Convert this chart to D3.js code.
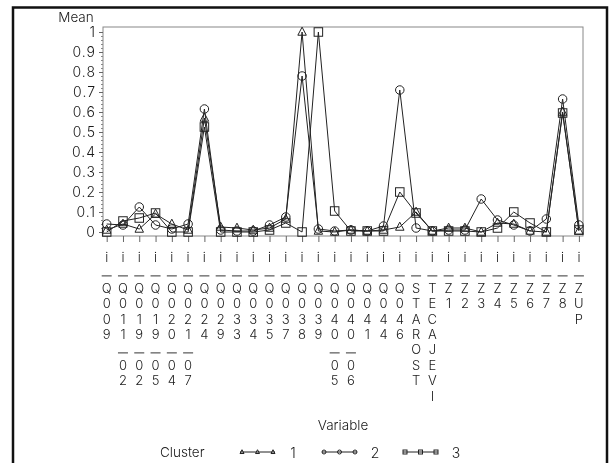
<!DOCTYPE html>
<html><head><meta charset="utf-8">
<script src="https://cdn.jsdelivr.net/npm/d3@7"></script>
<style>body{margin:0;background:#fff}svg{will-change:transform}text{font-family:"Inter","DejaVu Sans",sans-serif;font-weight:300;fill:#1a1a1a}</style>
</head><body><svg id="c" width="612" height="463"></svg>
<script>
const categories = ["i_Q009","i_Q011_02","i_Q019_02","i_Q019_05","i_Q020_04","i_Q021_07","i_Q024","i_Q029","i_Q033","i_Q034","i_Q035","i_Q037","i_Q038","i_Q039","i_Q040_05","i_Q040_06","i_Q041","i_Q044","i_Q046","i_STAROST","i_TECAJEVI","i_Z1","i_Z2","i_Z3","i_Z4","i_Z5","i_Z6","i_Z7","i_Z8","i_ZUP"];
const cluster1 = [0.01,0.04,0.015,0.09,0.04,0.01,0.57,0.025,0.02,0.01,0.02,0.065,1.0,0.005,0.0,0.01,0.005,0.01,0.025,0.1,0.005,0.02,0.02,0.0,0.045,0.04,0.005,0.0,0.6,0.005];
const cluster2 = [0.04,0.035,0.125,0.035,0.015,0.04,0.615,0.01,0.005,0.005,0.035,0.075,0.78,0.015,0.005,0.01,0.005,0.03,0.71,0.02,0.005,0.01,0.01,0.165,0.06,0.035,0.005,0.065,0.665,0.035];
const cluster3 = [0.0,0.055,0.07,0.095,0.0,0.0,0.525,0.0,0.0,0.0,0.01,0.045,0.0,1.0,0.105,0.005,0.005,0.005,0.2,0.095,0.005,0.005,0.005,0.0,0.02,0.1,0.045,0.0,0.595,0.01];
const clusterNames = ["1","2","3"];
const yTicks = [0,0.1,0.2,0.3,0.4,0.5,0.6,0.7,0.8,0.9,1];
const yTitle = "Mean";
const xTitle = "Variable";
const legendTitle = "Cluster";

const svg = d3.select("#c");
const series = [cluster1, cluster2, cluster3];
const shapes = ["triangle","circle","square"];

const x = d3.scalePoint().domain(categories).range([106.7, 578.9]);
const y = d3.scaleLinear().domain([0,1]).range([232,32]);
const frame = {l:103, r:583, t:27, b:236};

svg.append("rect").attr("x",13).attr("y",7.5).attr("width",594).attr("height",520)
  .attr("fill","none").attr("stroke","#111").attr("stroke-width",2.5);

svg.append("rect").attr("x",frame.l).attr("y",frame.t).attr("width",frame.r-frame.l).attr("height",frame.b-frame.t)
  .attr("fill","none").attr("stroke","#888").attr("stroke-width",1);

const ya = svg.append("g").attr("transform",`translate(${frame.l},0)`)
  .call(d3.axisLeft(y).tickValues(yTicks).tickSize(4).tickPadding(3)
    .tickFormat(d => d===0 ? "0" : d===1 ? "1" : d3.format(".1f")(d)));
ya.select(".domain").remove();
ya.selectAll("line").attr("stroke","#666");
ya.selectAll("text").attr("font-size",14).attr("letter-spacing",1).attr("fill","#1a1a1a")
  .style("font-family","Inter, DejaVu Sans").style("font-weight",300);
const minor = d3.range(0,1.0001,0.02).filter(v => Math.abs(v*10 - Math.round(v*10))>1e-6);
const ym = svg.append("g").attr("transform",`translate(${frame.l},0)`)
  .call(d3.axisLeft(y).tickValues(minor).tickSize(2).tickFormat(""));
ym.select(".domain").remove();
ym.selectAll("line").attr("stroke","#888");

svg.append("text").attr("x",76).attr("y",17).attr("text-anchor","middle").attr("dominant-baseline","central")
  .attr("font-size",13.5).text(yTitle);

const xa = svg.append("g").attr("transform",`translate(0,${frame.b})`)
  .call(d3.axisBottom(x).tickSize(6).tickFormat(""));
xa.select(".domain").remove();
xa.selectAll("line").attr("stroke","#666");

// vertical stacked labels
const rowStep = 15.4, row0 = 257;
const lab = svg.append("g");
categories.forEach(c => {
  const cx = x(c);
  [...c].forEach((ch,i) => {
    const cy = row0 + i*rowStep;
    if (ch === "_") {
      lab.append("line").attr("x1",cx-5).attr("x2",cx+5).attr("y1",cy+3.5).attr("y2",cy+3.5)
        .attr("stroke","#333").attr("stroke-width",1);
    } else {
      lab.append("text").attr("x",cx).attr("y",cy).attr("text-anchor","middle")
        .attr("dominant-baseline","central").attr("font-size",13).text(ch);
    }
  });
});

svg.append("text").attr("x",343).attr("y",425).attr("text-anchor","middle").attr("dominant-baseline","central")
  .attr("font-size",13.5).text(xTitle);

const line = d3.line().x((d,i)=>x(categories[i])).y(d=>y(d));
series.forEach(s => {
  svg.append("path").attr("d",line(s)).attr("fill","none").attr("stroke","#222").attr("stroke-width",1);
});

function marker(g, shape, cx, cy, sz) {
  if (shape === "triangle") {
    const h = sz*0.95;
    g.append("path").attr("d",`M${cx},${cy-h*0.6}L${cx+sz/2},${cy+h*0.4}L${cx-sz/2},${cy+h*0.4}Z`)
      .attr("fill","none").attr("stroke","#222").attr("stroke-width",1);
  } else if (shape === "circle") {
    g.append("circle").attr("cx",cx).attr("cy",cy).attr("r",sz/2)
      .attr("fill","none").attr("stroke","#222").attr("stroke-width",1);
  } else {
    g.append("rect").attr("x",cx-sz/2).attr("y",cy-sz/2).attr("width",sz).attr("height",sz)
      .attr("fill","none").attr("stroke","#222").attr("stroke-width",1);
  }
}
const mg = svg.append("g");
series.forEach((s,k) => {
  s.forEach((v,i) => marker(mg, shapes[k], x(categories[i]), y(v), 8.5));
});

const ly = 452;
svg.append("text").attr("x",160).attr("y",ly).attr("dominant-baseline","central").attr("font-size",13.5).text(legendTitle);
const legX = [240, 322, 403];
clusterNames.forEach((n,k) => {
  const x0 = legX[k];
  svg.append("line").attr("x1",x0).attr("x2",x0+35).attr("y1",ly).attr("y2",ly).attr("stroke","#222").attr("stroke-width",1);
  [x0+2, x0+17.5, x0+33].forEach(px => marker(svg, shapes[k], px, ly, 4));
  svg.append("text").attr("x",x0+53).attr("y",ly).attr("text-anchor","middle").attr("dominant-baseline","central")
    .attr("font-size",14).text(n);
});
</script></body></html>
